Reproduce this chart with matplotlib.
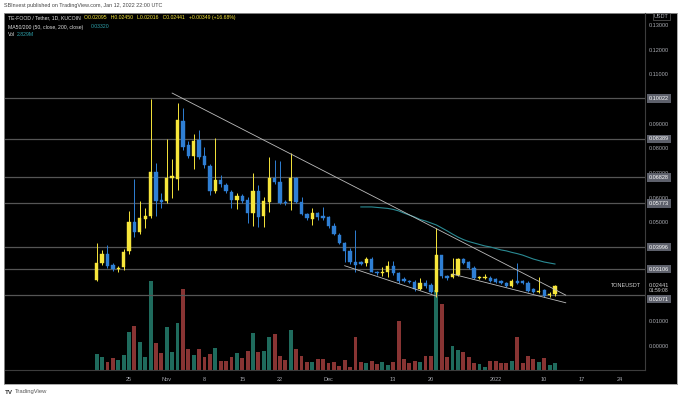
import numpy as np
import pandas as pd
import matplotlib
matplotlib.use('Agg')
import matplotlib.pyplot as plt
import matplotlib.transforms as mtransforms
from matplotlib.ticker import FormatStrFormatter

plt.rcParams['font.family'] = ['Liberation Sans', 'DejaVu Sans']

# daily candles TEFOOD/USDT, 19 Oct 2021 .. 12 Jan 2022
start = '2021-10-19'
opens = [0.0267, 0.0337, 0.0372, 0.0328, 0.0312, 0.0319, 0.0386, 0.0501, 0.0460, 0.0513,
         0.0527, 0.0703, 0.0591, 0.0587, 0.0679, 0.0676, 0.0911, 0.0814, 0.0770, 0.0834,
         0.0770, 0.0729, 0.0629, 0.0672, 0.0650, 0.0622, 0.0591, 0.0607, 0.0591, 0.0537,
         0.0629, 0.0526, 0.0583, 0.0679, 0.0664, 0.0583, 0.0588, 0.0679, 0.0584, 0.0534,
         0.0513, 0.0537, 0.0526, 0.0521, 0.0487, 0.0449, 0.0418, 0.0385, 0.0340, 0.0341,
         0.0337, 0.0351, 0.0301, 0.0294, 0.0301, 0.0324, 0.0294, 0.0272, 0.0264, 0.0259,
         0.0230, 0.0256, 0.0247, 0.0220, 0.0368, 0.0283, 0.0281, 0.0287, 0.0352, 0.0341,
         0.0317, 0.0274, 0.0274, 0.0277, 0.0270, 0.0263, 0.0256, 0.0243, 0.0264, 0.0262,
         0.0256, 0.0232, 0.0220, 0.0228, 0.0205, 0.02095]
highs = [0.0417, 0.0389, 0.0409, 0.0336, 0.0322, 0.0393, 0.0548, 0.0675, 0.0587, 0.0557,
         0.0999, 0.0742, 0.0618, 0.0838, 0.0757, 0.0985, 0.0962, 0.0830, 0.0857, 0.0874,
         0.0807, 0.0737, 0.0841, 0.0692, 0.0660, 0.0630, 0.0620, 0.0615, 0.0605, 0.0699,
         0.0652, 0.0605, 0.0766, 0.0753, 0.0750, 0.0590, 0.0780, 0.0685, 0.0605, 0.0540,
         0.0557, 0.0543, 0.0564, 0.0526, 0.0496, 0.0457, 0.0422, 0.0395, 0.0470, 0.0345,
         0.0360, 0.0360, 0.0305, 0.0320, 0.0346, 0.0346, 0.0301, 0.0279, 0.0268, 0.0266,
         0.0274, 0.0266, 0.0255, 0.0476, 0.0370, 0.0287, 0.0355, 0.0356, 0.0356, 0.0346,
         0.0324, 0.0285, 0.0290, 0.0284, 0.0274, 0.0268, 0.0259, 0.0270, 0.0334, 0.0266,
         0.0262, 0.0236, 0.0278, 0.0232, 0.0217, 0.02450]
lows = [0.0262, 0.0328, 0.0316, 0.0304, 0.0300, 0.0308, 0.0372, 0.0443, 0.0453, 0.0478,
        0.0520, 0.0526, 0.0557, 0.0578, 0.0599, 0.0632, 0.0794, 0.0761, 0.0717, 0.0757,
        0.0719, 0.0611, 0.0618, 0.0645, 0.0618, 0.0557, 0.0555, 0.0580, 0.0497, 0.0486,
        0.0481, 0.0483, 0.0544, 0.0655, 0.0575, 0.0570, 0.0551, 0.0578, 0.0530, 0.0510,
        0.0490, 0.0510, 0.0510, 0.0478, 0.0449, 0.0413, 0.0341, 0.0332, 0.0300, 0.0326,
        0.0324, 0.0299, 0.0288, 0.0285, 0.0281, 0.0288, 0.0254, 0.0259, 0.0255, 0.0223,
        0.0227, 0.0233, 0.0213, 0.0200, 0.0277, 0.0266, 0.0275, 0.0283, 0.0330, 0.0313,
        0.0272, 0.0270, 0.0270, 0.0260, 0.0255, 0.0250, 0.0239, 0.0239, 0.0250, 0.0250,
        0.0219, 0.0213, 0.0213, 0.0198, 0.0198, 0.02016]
closes = [0.0337, 0.0371, 0.0325, 0.0312, 0.0315, 0.0382, 0.0501, 0.0460, 0.0519, 0.0526,
          0.0703, 0.0588, 0.0582, 0.0679, 0.0687, 0.0915, 0.0807, 0.0770, 0.0830, 0.0766,
          0.0733, 0.0629, 0.0672, 0.0656, 0.0628, 0.0591, 0.0607, 0.0588, 0.0537, 0.0628,
          0.0523, 0.0587, 0.0679, 0.0663, 0.0578, 0.0578, 0.0679, 0.0585, 0.0534, 0.0517,
          0.0537, 0.0521, 0.0519, 0.0486, 0.0452, 0.0418, 0.0385, 0.0339, 0.0328, 0.0332,
          0.0351, 0.0301, 0.0294, 0.0300, 0.0324, 0.0294, 0.0264, 0.0264, 0.0259, 0.0230,
          0.0256, 0.0243, 0.0220, 0.0368, 0.0283, 0.0274, 0.0291, 0.0352, 0.0335, 0.0317,
          0.0274, 0.0278, 0.0281, 0.0264, 0.0258, 0.0254, 0.0243, 0.0264, 0.0256, 0.0256,
          0.0224, 0.0220, 0.0224, 0.0202, 0.0210, 0.02441]
# volume in millions
volumes = [6.76, 5.36, 3.38, 5.07, 4.22, 6.46, 15.9, 18.6, 11.8, 5.36,
           37.6, 11.4, 7.30, 18.2, 7.60, 20.0, 34.1, 8.74, 6.21, 8.74,
           5.36, 6.76, 9.16, 3.80, 3.80, 5.36, 7.18, 5.07, 7.90, 15.7,
           7.60, 7.90, 13.9, 15.1, 5.91, 4.22, 16.9, 8.87, 5.91, 3.38,
           3.50, 4.52, 4.52, 3.08, 3.38, 1.69, 4.22, 1.14, 13.9, 3.38,
           2.83, 3.67, 2.53, 3.50, 1.98, 3.38, 20.6, 4.77, 3.08, 3.80,
           3.38, 5.78, 5.78, 33.8, 27.9, 5.62, 10.1, 8.44, 7.60, 5.36,
           3.08, 2.53, 1.14, 3.80, 3.93, 3.08, 3.08, 3.80, 13.9, 3.08,
           5.78, 4.52, 3.38, 5.19, 2.11, 2.829]
# MA50 from 7 Dec 2021 onwards
ma50 = [0.0563, 0.0563, 0.0563, 0.0561, 0.0559, 0.0557, 0.0553, 0.0547, 0.0538, 0.0530,
        0.0522, 0.0512, 0.0506, 0.0498, 0.0490, 0.0478, 0.0466, 0.0453, 0.0441, 0.0431,
        0.0423, 0.0417, 0.0411, 0.0405, 0.0401, 0.0395, 0.0389, 0.0385, 0.0379, 0.0374,
        0.0368, 0.0360, 0.0352, 0.0346, 0.0340, 0.0336, 0.0332]
levels = [0.10022, 0.08389, 0.06828, 0.05773, 0.03996, 0.03106, 0.02071]
# drawn trend lines (date, price)
upper_line = (['2021-11-02', '2022-01-14'], [0.1024, 0.0206])
lower_line1 = (['2021-12-04', '2021-12-21'], [0.0325, 0.0202])
lower_line2 = (['2021-12-24', '2022-01-14'], [0.0291, 0.0175])
tick_dates = ['2021-10-25', '2021-11-01', '2021-11-08', '2021-11-15', '2021-11-22', '2021-12-01',
              '2021-12-13', '2021-12-20', '2022-01-01', '2022-01-10', '2022-01-17', '2022-01-24']
tick_labels = ['25', 'Nov', '8', '15', '22', 'Dec', '13', '20', '2022', '10', '17', '24']
price_ticks = [0.0, 0.01, 0.05, 0.06, 0.07, 0.08, 0.09, 0.11, 0.12, 0.13]

t0 = pd.Timestamp(start)
def day(d):
    return (pd.to_datetime(d) - t0).days

o = np.array(opens); h = np.array(highs); l = np.array(lows); c = np.array(closes)
x = np.arange(len(o))
up = c >= o
YEL, BLU = '#f7e63b', '#2f7fd4'
GRID = '#555555'
TXT = '#a9abb2'
cols = np.where(up, YEL, BLU)
vcols = np.where(up, '#1f6b5d', '#883433')

W, H = 680, 400
fig = plt.figure(figsize=(6.8, 4.0), dpi=100)
fig.patch.set_facecolor('white')

def px(x0, y0, x1, y1):
    return [x0 / W, 1 - y1 / H, (x1 - x0) / W, (y1 - y0) / H]

bg = fig.add_axes(px(4, 13, 677, 384))
bg.set_facecolor('black')
bg.set_xticks([]); bg.set_yticks([])
for s in bg.spines.values():
    s.set_color('#9a9a9a'); s.set_linewidth(0.6)

xlim = (-17.0, 101.7)
vax = fig.add_axes(px(5, 13, 645, 370))
vax.set_facecolor('none')
vax.bar(x, volumes, width=0.72, color=vcols, zorder=1)
vax.set_xlim(xlim)
vax.set_ylim(0, 150.7)
vax.axis('off')

ax = fig.add_axes(px(5, 13, 645, 370))
ax.patch.set_visible(False)
for lv in levels:
    ax.axhline(lv, color=GRID, lw=0.9, zorder=1)
ax.vlines(x, l, h, colors=cols, lw=0.7, zorder=3)
ax.bar(x, np.abs(c - o), bottom=np.minimum(o, c), width=0.62, color=cols,
       edgecolor=cols, linewidth=0.3, zorder=4)
ax.plot(x[49:], ma50, color='#2a8a93', lw=0.8, zorder=2)
for xs, ys in (upper_line, lower_line1, lower_line2):
    ax.plot([day(d) for d in xs], ys, color='#bdbdbd', lw=0.6, zorder=5)

ax.set_xlim(xlim)
ax.set_ylim(-0.00972, 0.13482)
ax.set_xticks([day(d) for d in tick_dates])
ax.set_xticklabels(tick_labels)
ax.yaxis.tick_right()
ax.set_yticks(price_ticks)
ax.yaxis.set_major_formatter(FormatStrFormatter('%.5f'))
ax.tick_params(axis='both', length=0, colors=TXT, labelsize=4)
ax.tick_params(axis='x', pad=5)
ax.tick_params(axis='y', pad=3)
for name, s in ax.spines.items():
    s.set_color('#3c3c3c'); s.set_linewidth(0.8)
ax.spines['left'].set_visible(False)
ax.spines['top'].set_visible(False)

trans = mtransforms.blended_transform_factory(ax.transAxes, ax.transData)
label_shift = {0.02071: -0.0017}
for lv in levels:
    ax.text(1 + 4 / 640, lv + label_shift.get(lv, 0), f'{lv:.5f}', transform=trans,
            ha='left', va='center', fontsize=4, color='white', clip_on=False,
            bbox=dict(boxstyle='square,pad=0.3', fc='#5d606b', ec='none'))
ax.text(1 + 4 / 640, c[-1] + 0.0002, f'{c[-1]:.5f}', transform=trans, ha='left', va='center',
        fontsize=4, color='#d0d0d0', clip_on=False)
ax.text(1 + 4 / 640, c[-1] - 0.0020, '01:59:08', transform=trans, ha='left', va='center',
        fontsize=3.6, color='#d0d0d0', clip_on=False)
ax.text(1 - 4 / 640, c[-1], 'TONEUSDT', transform=trans, ha='right', va='center',
        fontsize=4, color='#d0d0d0', clip_on=False)
ax.text(1 + 9 / 640, 0.1335, 'USDT', transform=trans, ha='left', va='center',
        fontsize=4, color=TXT, clip_on=False,
        bbox=dict(boxstyle='square,pad=0.2', fc='black', ec='#777777', lw=0.4))

# header texts
fig.text(4 / W, 1 - 6 / H, 'SBInvest published on TradingView.com, Jan 12, 2022 22:00 UTC',
         fontsize=3.9, color='#444444', va='center')
fig.text(8 / W, 1 - 18 / H, 'TE-FOOD / Tether, 1D, KUCOIN', fontsize=3.7, color='#e0e0e0', va='center')
fig.text(84 / W, 1 - 18 / H,
         'O0.02095   H0.02450   L0.02016   C0.02441   +0.00349 (+16.68%)',
         fontsize=3.7, color=YEL, va='center')
fig.text(8 / W, 1 - 27 / H, 'MA50/200 (50, close, 200, close)', fontsize=3.7, color='#e0e0e0', va='center')
fig.text(91 / W, 1 - 27 / H, '0.03320', fontsize=3.7, color='#2fa3ad', va='center')
fig.text(8 / W, 1 - 35 / H, 'Vol', fontsize=3.7, color='#e0e0e0', va='center')
fig.text(17 / W, 1 - 35 / H, '2.829M', fontsize=3.7, color='#2fa3ad', va='center')

# footer
fig.text(5 / W, 1 - 392 / H, 'TV', fontsize=4.5, color='#333333', va='center', weight='bold')
fig.text(15 / W, 1 - 392 / H, 'TradingView', fontsize=4.2, color='#555555', va='center')

fig.savefig('out.png', dpi=100, facecolor=fig.get_facecolor())
